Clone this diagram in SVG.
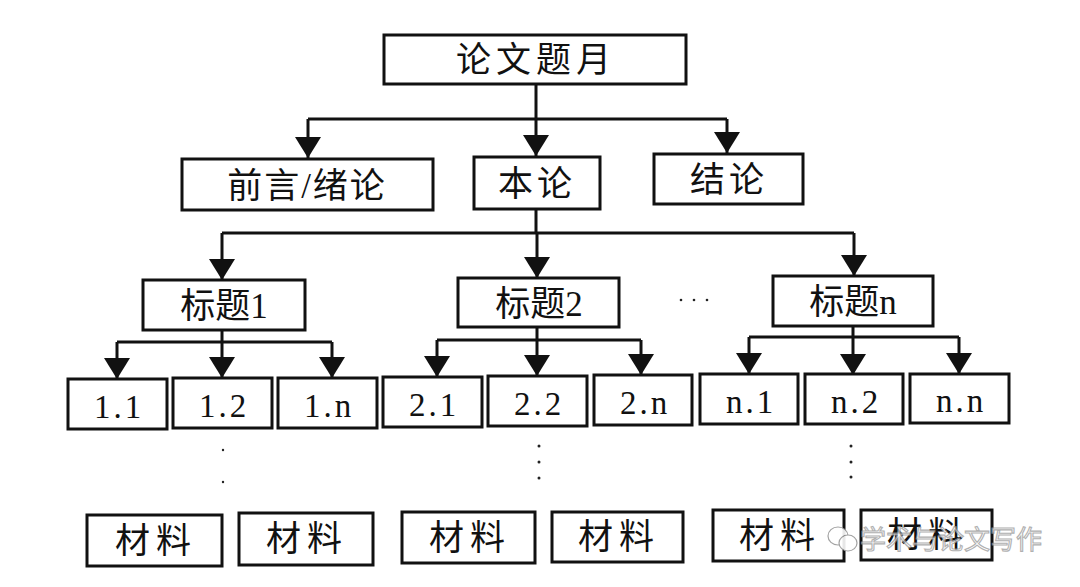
<svg xmlns="http://www.w3.org/2000/svg" width="1080" height="587" viewBox="0 0 1080 587">
<defs>
<style>
.box{fill:#fff;stroke:#111;stroke-width:3}
.ln{fill:none;stroke:#111;stroke-width:3}
.cn{font-family:"Liberation Serif","Noto Sans CJK SC",serif;font-size:35px;fill:#111;text-anchor:middle}
.num{font-family:"Liberation Serif","Noto Sans CJK SC",serif;font-size:33px;fill:#111;text-anchor:middle;letter-spacing:3px}
.dot{fill:#222}
.wm{font-family:"Noto Sans CJK SC",sans-serif;font-size:26px;fill:#fff;stroke:#999;stroke-width:1.1;opacity:0.85}
</style>
<marker id="ah" viewBox="0 0 21 26" refX="21" refY="13" markerWidth="21" markerHeight="26" markerUnits="userSpaceOnUse" orient="auto">
<path d="M0,0 L21,13 L0,26 Z" fill="#111"/>
</marker>
</defs>
<rect width="1080" height="587" fill="#fff"/>
<g id="connectors">
<path class="ln" d="M536,84 V119"/>
<path class="ln" d="M308,119 H727"/>
<path class="ln" d="M308,119 V158" marker-end="url(#ah)"/>
<path class="ln" d="M536,119 V156" marker-end="url(#ah)"/>
<path class="ln" d="M727,119 V153" marker-end="url(#ah)"/>
<path class="ln" d="M536,210 V233"/>
<path class="ln" d="M222,233 H854"/>
<path class="ln" d="M222,233 V280" marker-end="url(#ah)"/>
<path class="ln" d="M537,233 V278" marker-end="url(#ah)"/>
<path class="ln" d="M854,233 V276" marker-end="url(#ah)"/>
<path class="ln" d="M222,330 V342 M117,342 H332"/>
<path class="ln" d="M117,342 V379" marker-end="url(#ah)"/>
<path class="ln" d="M222,342 V378" marker-end="url(#ah)"/>
<path class="ln" d="M332,342 V378" marker-end="url(#ah)"/>
<path class="ln" d="M537,327 V340 M437,340 H641"/>
<path class="ln" d="M437,340 V377" marker-end="url(#ah)"/>
<path class="ln" d="M537,340 V376" marker-end="url(#ah)"/>
<path class="ln" d="M641,340 V375" marker-end="url(#ah)"/>
<path class="ln" d="M853,326 V337 M749,337 H959"/>
<path class="ln" d="M749,337 V374" marker-end="url(#ah)"/>
<path class="ln" d="M853,337 V375" marker-end="url(#ah)"/>
<path class="ln" d="M959,337 V374" marker-end="url(#ah)"/>
</g>
<g id="n-root"><rect class="box" x="384" y="35" width="302" height="49"/><text class="cn" x="536" y="72" letter-spacing="5">论文题月</text></g>
<g id="n-intro"><rect class="box" x="182" y="159" width="251" height="51"/><text class="cn" x="307" y="198" letter-spacing="2">前言/绪论</text></g>
<g id="n-body"><rect class="box" x="474" y="157" width="126" height="52"/><text class="cn" x="537" y="196" letter-spacing="4">本论</text></g>
<g id="n-concl"><rect class="box" x="654" y="154" width="149" height="50"/><text class="cn" x="729" y="192" letter-spacing="4">结论</text></g>
<g id="n-t1"><rect class="box" x="143" y="280" width="162" height="50"/><text class="cn" x="224" y="318">标题1</text></g>
<g id="n-t2"><rect class="box" x="458" y="278" width="161" height="49"/><text class="cn" x="539" y="316">标题2</text></g>
<g id="n-tn"><rect class="box" x="773" y="276" width="160" height="50"/><text class="cn" x="853" y="314">标题n</text></g>
<g id="gap-dots"><circle class="dot" cx="681" cy="300" r="1.3"/><circle class="dot" cx="694" cy="300" r="1.3"/><circle class="dot" cx="707" cy="300" r="1.3"/></g>
<g id="n-11"><rect class="box" x="68" y="379" width="99" height="50"/><text class="num" x="119" y="418">1.1</text></g>
<g id="n-12"><rect class="box" x="173" y="378" width="99" height="50"/><text class="num" x="224" y="417">1.2</text></g>
<g id="n-1n"><rect class="box" x="278" y="378" width="99" height="50"/><text class="num" x="329" y="417">1.n</text></g>
<g id="n-21"><rect class="box" x="383" y="377" width="99" height="50"/><text class="num" x="434" y="416">2.1</text></g>
<g id="n-22"><rect class="box" x="488" y="376" width="99" height="50"/><text class="num" x="539" y="415">2.2</text></g>
<g id="n-2n"><rect class="box" x="594" y="375" width="98" height="50"/><text class="num" x="645" y="414">2.n</text></g>
<g id="n-n1"><rect class="box" x="700" y="374" width="98" height="50"/><text class="num" x="751" y="413">n.1</text></g>
<g id="n-n2"><rect class="box" x="805" y="374" width="98" height="50"/><text class="num" x="856" y="413">n.2</text></g>
<g id="n-nn"><rect class="box" x="910" y="374" width="99" height="49"/><text class="num" x="961" y="412">n.n</text></g>
<g id="vdots">
<circle class="dot" cx="223" cy="450" r="1.2"/><circle class="dot" cx="223" cy="482" r="1.2"/>
<circle class="dot" cx="539" cy="446" r="1.5"/><circle class="dot" cx="539" cy="462" r="1.5"/><circle class="dot" cx="539" cy="478" r="1.5"/>
<circle class="dot" cx="851" cy="446" r="1.5"/><circle class="dot" cx="851" cy="462" r="1.5"/><circle class="dot" cx="851" cy="477" r="1.5"/>
</g>
<g id="m1"><rect class="box" x="87" y="515" width="135" height="51"/><text class="cn" x="156" y="553" letter-spacing="6">材料</text></g>
<g id="m2"><rect class="box" x="239" y="513" width="134" height="52"/><text class="cn" x="307" y="551" letter-spacing="6">材料</text></g>
<g id="m3"><rect class="box" x="402" y="512" width="133" height="51"/><text class="cn" x="470" y="550" letter-spacing="6">材料</text></g>
<g id="m4"><rect class="box" x="552" y="512" width="131" height="50"/><text class="cn" x="619" y="549" letter-spacing="6">材料</text></g>
<g id="m5"><rect class="box" x="713" y="510" width="131" height="51"/><text class="cn" x="780" y="548" letter-spacing="6">材料</text></g>
<g id="m6"><rect class="box" x="861" y="510" width="131" height="50"/><text class="cn" x="928" y="547" letter-spacing="6">材料</text></g>
<g id="watermark" opacity="0.9">
<ellipse cx="838" cy="536" rx="10" ry="9" fill="#fff" stroke="#999" stroke-width="1.2"/>
<ellipse cx="848" cy="543" rx="9" ry="8" fill="#fff" stroke="#999" stroke-width="1.2"/>
<text class="wm" x="860" y="549">学术与论文写作</text>
</g>
</svg>
